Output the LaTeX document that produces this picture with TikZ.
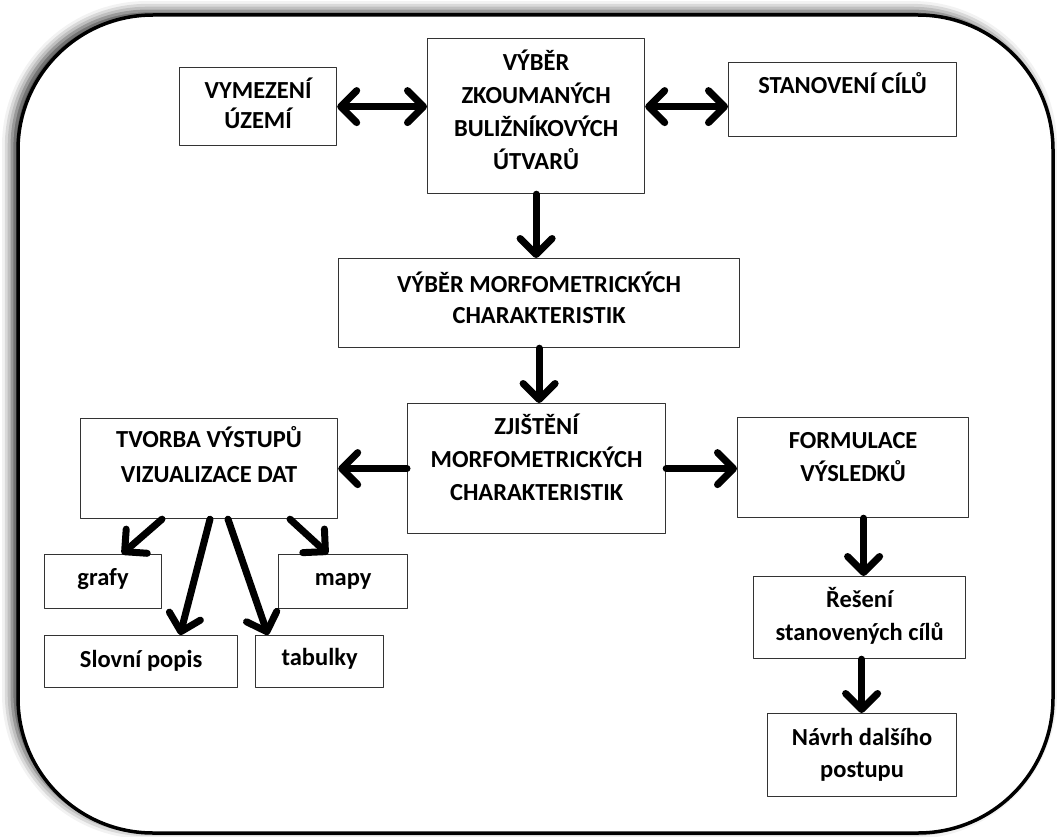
\documentclass[tikz,border=0pt]{standalone}
\usepackage{fontspec}
\setmainfont{Carlito}
\usetikzlibrary{arrows.meta,shadows.blur}

\tikzset{
  stepbox/.style={draw=black!80,line width=1.2pt,fill=white,inner sep=0pt,
    align=flush center,anchor=north west,font=\bfseries\fontsize{24.5}{33}\selectfont},
  tipbarb/.tip={Straight Barb[length=16pt,width=32pt,round]},
  flow/.style={line width=7pt,-tipbarb},
  twoway/.style={line width=7pt,tipbarb-tipbarb},
}

\begin{document}
\begin{tikzpicture}[x=1pt,y=-1pt,line cap=round,line join=round]
  \useasboundingbox (0,0) rectangle (1057,837);

  % frame
  \draw[line width=3.5pt,fill=white,rounded corners=135pt,
    blur shadow={shadow xshift=-6pt,shadow yshift=4pt,shadow blur radius=10pt,shadow opacity=80}]
    (18,15) rectangle (1053,833);

  % top row
  \node[stepbox,text width=157pt,text height=31pt,text depth=47pt,
    font=\bfseries\fontsize{24.5}{30}\selectfont] (vym) at (179,67) {VYMEZENÍ\\ÚZEMÍ};
  \node[stepbox,text width=217pt,text height=32pt,text depth=123pt] (vyb) at (427,38)
    {VÝBĚR\\ZKOUMANÝCH\\BULIŽNÍKOVÝCH\\ÚTVARŮ};
  \node[stepbox,text width=228pt,text height=31pt,text depth=43pt] (stan) at (728,62) {STANOVENÍ CÍLŮ};

  % middle
  \node[stepbox,text width=401pt,text height=34pt,text depth=55pt,
    font=\bfseries\fontsize{24.5}{31}\selectfont] (morf) at (338,258)
    {VÝBĚR MORFOMETRICKÝCH\\CHARAKTERISTIK};
  \node[stepbox,text width=258pt,text height=31pt,text depth=99pt] (zji) at (407,403)
    {ZJIŠTĚNÍ\\MORFOMETRICKÝCH\\CHARAKTERISTIK};
  \node[stepbox,text width=257pt,text height=29pt,text depth=71pt,
    font=\bfseries\fontsize{24.5}{35}\selectfont] (tvo) at (80,418)
    {TVORBA VÝSTUPŮ\\VIZUALIZACE DAT};
  \node[stepbox,text width=231pt,text height=31pt,text depth=69pt] (form) at (737,417)
    {FORMULACE\\VÝSLEDKŮ};

  % outputs
  \node[stepbox,text width=117pt,text height=31pt,text depth=23pt] (grafy) at (44,554) {grafy};
  \node[stepbox,text width=129pt,text height=31pt,text depth=23pt] (mapy) at (278,554) {mapy};
  \node[stepbox,text width=193pt,text height=32pt,text depth=20pt] (popis) at (44,635) {Slovní popis};
  \node[stepbox,text width=128pt,text height=30pt,text depth=22pt] (tab) at (255,635) {tabulky};

  % results
  \node[stepbox,text width=212pt,text height=31pt,text depth=51pt] (res) at (753,576)
    {Řešení\\stanovených cílů};
  \node[stepbox,text width=189pt,text height=32pt,text depth=51pt,
    font=\bfseries\fontsize{24.5}{32}\selectfont] (navrh) at (767,713)
    {Návrh dalšího\\postupu};

  % arrows
  \draw[twoway] (vym.east) -- (vym.east -| vyb.west);
  \draw[twoway] (vyb.east |- vym.east) -- (stan.west |- vym.east);
  \draw[flow] (vyb.south) -- (vyb.south |- morf.north);
  \draw[flow] (morf.south) -- (morf.south |- zji.north);
  \draw[flow] (zji.west) -- (zji.west -| tvo.east);
  \draw[flow] (zji.east) -- (zji.east -| form.west);
  \draw[flow] ([xshift=4pt]res.north |- form.south) -- ([xshift=4pt]res.north);
  \draw[flow] ([xshift=2pt]res.south) -- ([xshift=2pt]res.south |- navrh.north);

  \draw[flow] ([xshift=82pt]tvo.south west) -- ([xshift=78pt]grafy.north west);
  \draw[flow] ([xshift=130pt]tvo.south west) -- ([xshift=136pt]popis.north west);
  \draw[flow] ([xshift=148pt]tvo.south west) -- ([xshift=13pt]tab.north west);
  \draw[flow] ([xshift=210pt]tvo.south west) -- ([xshift=50pt]mapy.north west);
\end{tikzpicture}
\end{document}
